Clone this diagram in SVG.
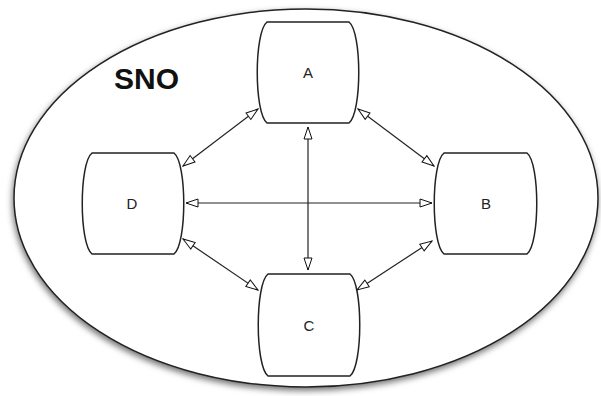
<svg xmlns="http://www.w3.org/2000/svg" width="601" height="396" viewBox="0 0 601 396">
<defs>
<filter id="sh" x="-10%" y="-10%" width="120%" height="120%">
<feDropShadow dx="-1" dy="3" stdDeviation="3" flood-color="#000" flood-opacity="0.55"/>
</filter>
<marker id="ah" viewBox="-1 -1 14 10" refX="12" refY="4" markerWidth="14" markerHeight="10" markerUnits="userSpaceOnUse" orient="auto-start-reverse">
<path d="M0,0 L12,4 L0,8 Z" fill="#fff" stroke="#111" stroke-width="1"/>
</marker>
<style>
.node{fill:#fff;stroke:#222;stroke-width:1.5}
.lbl{font-family:"Liberation Sans",Arial,sans-serif;font-size:15px;fill:#222;text-anchor:middle}
.con{stroke:#222;stroke-width:1.2;fill:none;marker-start:url(#ah);marker-end:url(#ah)}
</style>
</defs>
<rect width="601" height="396" fill="#fff"/>
<g id="sno">
<ellipse cx="306" cy="198" rx="292" ry="189" fill="#fff" stroke="#222" stroke-width="1.5" filter="url(#sh)"/>
<text x="114" y="89" font-family="Liberation Sans,Arial,sans-serif" font-weight="bold" font-size="30" fill="#111">SNO</text>
</g>
<g id="connectors">
<line class="con" x1="258" y1="109" x2="183" y2="166"/>
<line class="con" x1="358" y1="109" x2="434" y2="166"/>
<line class="con" x1="186" y1="203" x2="432" y2="203"/>
<line class="con" x1="308" y1="127" x2="308" y2="270"/>
<line class="con" x1="183" y1="239" x2="258" y2="290"/>
<line class="con" x1="432" y1="241" x2="357" y2="290"/>
</g>
<g id="A">
<path class="node" d="M267,22 H349 C362,32 362,113 349,123 H267 C254,113 254,32 267,22 Z"/>
<text class="lbl" x="308" y="78">A</text>
</g>
<g id="B">
<path class="node" d="M444,153 H527 C540,163 540,244 527,254 H444 C431,244 431,163 444,153 Z"/>
<text class="lbl" x="486" y="209">B</text>
</g>
<g id="C">
<path class="node" d="M268,274 H350 C363,284 363,366 350,376 H268 C255,366 255,284 268,274 Z"/>
<text class="lbl" x="309" y="331">C</text>
</g>
<g id="D">
<path class="node" d="M92,153 H174 C187,163 187,244 174,254 H92 C79,244 79,163 92,153 Z"/>
<text class="lbl" x="132" y="209">D</text>
</g>
</svg>
